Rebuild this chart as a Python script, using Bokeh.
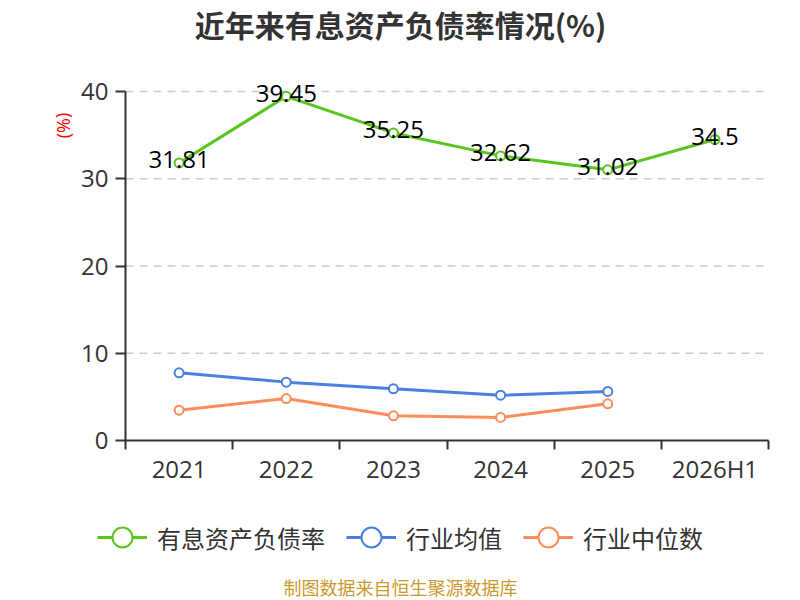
from bokeh.plotting import figure
from bokeh.models import (FixedTicker, Legend, LegendItem, Label, ColumnDataSource,
                          Range1d, LinearAxis)
from bokeh.embed import file_html
from bokeh.resources import INLINE
from bokeh.core.properties import value

# ---- data ----
categories = ["2021", "2022", "2023", "2024", "2025", "2026H1"]
debt_ratio = [31.81, 39.45, 35.25, 32.62, 31.02, 34.5]
industry_avg = [7.76, 6.69, 5.92, 5.19, 5.62]
industry_median = [3.48, 4.81, 2.83, 2.64, 4.20]
y_ticks = [0, 10, 20, 30, 40]
series_names = ["有息资产负债率", "行业均值", "行业中位数"]
title_text = "近年来有息资产负债率情况(%)"
unit_text = "(%)"
source_text = "制图数据来自恒生聚源数据库"

# ---- layout (pixels) ----
W, H = 800, 600
PL, PR, PT, PB = 125, 768, 91, 440   # plot area edges in the picture
XMAX = len(categories)
YMAX = y_ticks[-1]
sx = (PR - PL) / XMAX
sy = (PB - PT) / YMAX
x_range = Range1d(-PL / sx, XMAX + (W - PR) / sx)
y_range = Range1d(-(H - PB) / sy, YMAX + PT / sy)

def px_x(px):
    return (px - PL) / sx

def px_y(py):
    return (PB - py) / sy

GREEN = "#5bc41f"
BLUE = "#4b80e3"
ORANGE = "#ff8c5a"
TXT = "#333333"
NUM_FONT = "Open Sans"
CJK_FONT = "Noto Sans CJK SC"

p = figure(width=W, height=H, output_backend="svg", toolbar_location=None,
           x_range=x_range, y_range=y_range, min_border=0,
           x_axis_location=None, y_axis_location=None)
p.outline_line_color = None
p.background_fill_color = "white"
p.border_fill_color = "white"
p.title.visible = False
for g in list(p.grid):
    g.visible = False

# dashed horizontal grid lines over the plot area only
grid_y = y_ticks[1:]
p.segment(x0=[0] * len(grid_y), x1=[XMAX] * len(grid_y), y0=grid_y, y1=grid_y,
          line_color="#cccccc", line_dash="8 6", line_width=1.5)

# x axis: labels at band centers, ticks at band boundaries
xs_all = [i + 0.5 for i in range(len(categories))]
xaxis = LinearAxis(fixed_location=0, bounds=(0, XMAX),
                   ticker=FixedTicker(ticks=xs_all, minor_ticks=list(range(XMAX + 1))),
                   major_label_overrides={x: c for x, c in zip(xs_all, categories)},
                   major_tick_out=0, major_tick_in=0,
                   minor_tick_out=9, minor_tick_in=0,
                   minor_tick_line_color=TXT, minor_tick_line_width=2,
                   axis_line_color=TXT, axis_line_width=2,
                   major_label_text_font=NUM_FONT, major_label_text_font_size="24px",
                   major_label_text_color=TXT, major_label_standoff=2)
p.add_layout(xaxis, "below")

yaxis = LinearAxis(fixed_location=0, bounds=(0, YMAX),
                   ticker=FixedTicker(ticks=y_ticks, minor_ticks=[]),
                   major_tick_out=10, major_tick_in=0,
                   major_tick_line_color=TXT, major_tick_line_width=2,
                   axis_line_color=TXT, axis_line_width=2,
                   major_label_text_font=NUM_FONT, major_label_text_font_size="24px",
                   major_label_text_color=TXT, major_label_standoff=7)
p.add_layout(yaxis, "left")

# ---- series ----
src_g = ColumnDataSource(dict(x=xs_all, y=debt_ratio, lab=[str(v) for v in debt_ratio]))
src_b = ColumnDataSource(dict(x=xs_all[:len(industry_avg)], y=industry_avg))
src_o = ColumnDataSource(dict(x=xs_all[:len(industry_median)], y=industry_median))

items = []
for src, col, name in [(src_g, GREEN, series_names[0]),
                       (src_b, BLUE, series_names[1]),
                       (src_o, ORANGE, series_names[2])]:
    lr = p.line("x", "y", source=src, line_color=col, line_width=3)
    sr = p.scatter("x", "y", source=src, size=9, marker="circle",
                   fill_color="white", line_color=col, line_width=2)
    items.append(LegendItem(label=name, renderers=[lr, sr]))

p.text("x", "y", text="lab", source=src_g, text_align="center",
       text_baseline="middle", y_offset=-3, text_color="black",
       text_font=value(NUM_FONT), text_font_size="24px")

legend = Legend(items=items, orientation="horizontal", location=(97, H - 562),
                glyph_width=50, glyph_height=50, label_standoff=10, spacing=21,
                padding=0, margin=0,
                label_text_font=CJK_FONT, label_text_font_size="24px",
                label_text_color=TXT,
                background_fill_alpha=0, border_line_alpha=0)
p.add_layout(legend, "center")

# ---- texts ----
p.add_layout(Label(x=px_x(400), y=px_y(23), text=title_text, text_align="center",
                   text_baseline="middle", text_font=CJK_FONT, text_font_size="30px",
                   text_font_style="bold", text_color=TXT))
p.add_layout(Label(x=px_x(62), y=px_y(125), text=unit_text, angle=1.5708,
                   text_align="center", text_baseline="middle", text_font=NUM_FONT,
                   text_font_size="18px", text_color="#ff0000"))
p.add_layout(Label(x=px_x(400), y=px_y(586), text=source_text, text_align="center",
                   text_baseline="middle", text_font=CJK_FONT, text_font_size="18px",
                   text_color="#cc9a2e"))

open("out.html", "w").write(file_html(p, INLINE))
